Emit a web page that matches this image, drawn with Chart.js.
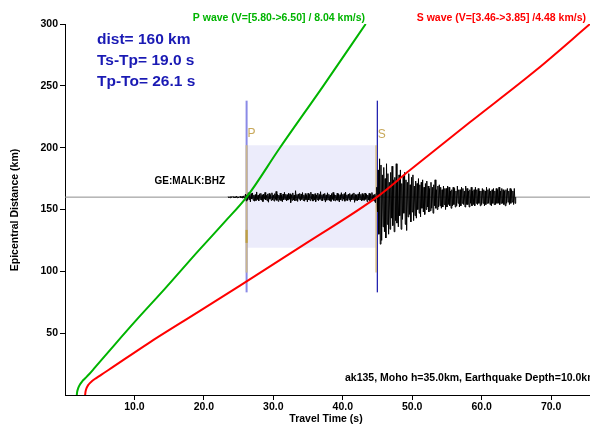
<!DOCTYPE html>
<html><head><meta charset="utf-8">
<script src="https://cdn.jsdelivr.net/npm/chart.js@4"></script>
<style>html,body{margin:0;padding:0;background:#fff}#wrap{width:590px;height:427px}</style>
</head><body><div id="wrap"><canvas id="c" width="590" height="427"></canvas></div>
<script>
// ---- data ----
const xTicks = [10, 20, 30, 40, 50, 60, 70];
const yTicks = [50, 100, 150, 200, 250, 300];

const pTime = [1.7, 1.75, 1.9, 2.15, 2.5, 2.9, 3.5, 4.2, 7.2, 10.1, 14.4, 19.2, 23.0, 26.15, 30.9, 37.2, 43.3];
const pDist = [0, 2.5, 5.5, 8.5, 11.2, 13.5, 17, 21.5, 41, 59.5, 86, 116.5, 140, 160, 199.5, 250, 300];

const sTime = [2.9, 2.95, 3.1, 3.4, 3.9, 4.5, 5.2, 6.2, 12.0, 19.2, 25.2, 34.8, 44.9, 49.6, 58.3, 67.9, 75.6];
const sDist = [0, 2.5, 5.5, 8.5, 11.3, 13.7, 16.3, 20, 41.8, 67.2, 88.5, 123, 160, 181.5, 220.5, 263, 300];

const stationDist = 160;
const traceStart = 23.5, traceStep = 0.1;
const traceAmp = [
 0.3,-0.4,0.2,-0.5,0.6,-0.3,0.4,-0.2,0.5,-0.6,0.3,-0.4,0.8,-0.5,0.3,-0.7,0.4,-0.3,0.9,-0.6,0.5,-0.8,1.0,-0.7,0.6,
 2.5,-3.1,1.8,-2.4,3.6,-1.9,2.2,-3.8,2.9,-1.5,
 3.4,-2.6,1.7,-3.3,2.1,-2.8,4.2,-2.0,1.6,-3.0,
 2.7,-1.8,3.1,-2.5,1.9,-3.6,2.4,-1.7,3.8,-2.2,
 1.5,-2.9,2.6,-4.1,3.0,-1.6,2.0,-2.7,3.5,-2.3,
 1.8,-3.2,2.8,-1.9,4.6,-2.6,2.2,-3.4,1.7,-2.1,
 3.3,-2.8,1.6,-3.7,2.5,-2.0,3.9,-1.8,2.3,-3.1,
 2.0,-2.4,3.2,-1.7,2.7,-4.4,1.9,-2.6,3.4,-2.2,
 1.7,-3.0,5.2,-2.5,2.1,-3.5,2.6,-1.6,3.0,-2.9,
 2.4,-1.9,3.7,-2.7,1.8,-3.3,2.9,-2.1,1.6,-3.8,
 3.1,-2.3,2.2,-2.8,4.0,-1.7,2.5,-3.2,1.9,-2.4,
 2.8,-3.6,1.7,-2.0,3.3,-2.9,2.1,-1.8,4.4,-2.6,
 1.9,-3.1,2.6,-2.2,3.0,-4.0,1.8,-2.5,3.5,-2.1,
 2.3,-2.8,1.6,-3.4,2.9,-1.9,3.8,-2.7,2.0,-3.0,
 1.7,-2.3,3.2,-2.6,2.4,-3.9,1.9,-2.0,3.6,-2.8,
 2.2,-1.7,2.8,-3.3,4.1,-2.4,1.8,-2.9,2.5,-2.1,
 3.0,-3.5,1.9,-2.2,2.7,-1.8,3.4,-4.2,2.1,-2.6,
 1.8,-3.0,2.6,-2.3,3.9,-1.9,2.2,-3.1,2.9,-2.5,
 2.0,-2.7,3.3,-1.8,2.4,-3.6,1.7,-2.2,3.1,-2.8,
 2.6,-2.0,3.7,-2.9,1.9,-3.2,2.3,-4.5,3.0,
 8,-12,22,-30,31,-38,26,-35,18,-24,
 24,-28,15,-33,27,-22,19,-30,12,-26,
 20,-17,25,-23,14,-28,16,-19,27,-21,
 13,-24,18,-15,22,-26,11,-18,17,-13,
 20,-22,14,-27,12,-16,19,-14,10,-20,
 16,-12,18,-19,9,-15,13,-17,11,-10,
 15,-13,10,-16,12,-9,14,-12,8,-14,
 11,-10,13,-8,9,-12,7,-11,12,-9,
 8,-13,10,-7,14,-9,6,-10,9,-8,
 10,-7,8,-9,6,-8,9,-6,7,-10,
 7,-8,9,-6,8,-7,5,-9,6,-7,
 8,-6,7,-8,5,-7,9,-5,6,-8,
 6,-7,8,-5,7,-6,5,-8,9,-6,
 7,-6,5,-8,6,-5,8,-7,5,-6,
 6,-7,8,-5,6,-6,7,-5,5,-7,
 5,-6,7,-5,6,-7,5,-6,8,-5,
 6,-5,7,-6,5,-7,6,-5,7,-6,
 5,-6,7,-5,6,-5,8,-6,5,-5,
 7,-5,6,-6,5,-7,6,-5,7,-4,
 5,-6,7,-5,6,-4,5,-6,7,-5,
 0
];

const pPick = 26.15, sPick = 44.98, sTanPick = 44.8;
const boxLow = 119, boxHigh = 202;
const blueLow = 83, blueHigh = 238;
const tanLow = 99, tanHigh = 202;
const tanMarkLow = 123, tanMarkHigh = 133.5;
const xMax = 75.6, yMax = 300;

// ---- build ----
const pts = (xs, ys) => xs.map((x, i) => ({x, y: ys[i]}));
const vline = (x, a, b) => [{x, y: a}, {x, y: b}];
const tracePts = traceAmp.map((a, i) => ({x: traceStart + i * traceStep, y: stationDist + a}));
const line = (data, color, width, order, extra) => Object.assign({
  data, borderColor: color, borderWidth: width, pointRadius: 0, tension: 0, fill: false, order
}, extra || {});

const datasets = [
  line([{x: pPick, y: boxHigh}, {x: sTanPick, y: boxHigh}], 'rgba(0,0,0,0)', 0, 20,
       {fill: {value: boxLow}, backgroundColor: '#ececfb'}),
  line([{x: 0, y: stationDist}, {x: xMax, y: stationDist}], '#8c8c8c', 1, 19),
  line([{x: pPick, y: stationDist}, {x: sPick, y: stationDist}], '#20207a', 1, 18),
  line(vline(pPick, blueLow, blueHigh), '#8a8ae6', 2, 17),
  line(vline(sPick, blueLow, blueHigh), '#2424b0', 1.3, 17),
  line(vline(pPick, tanLow, tanHigh), '#c9b68e', 2, 16),
  line(vline(sTanPick, tanLow, tanHigh), '#c8aa62', 1.2, 16),
  line(vline(pPick, tanMarkLow, tanMarkHigh), '#c0a040', 2.2, 15),
  line(tracePts, '#000000', 1, 5),
  line(pts(pTime, pDist), '#00b400', 2, 2, {cubicInterpolationMode: 'monotone'}),
  line(pts(sTime, sDist), '#ff0000', 2, 2, {cubicInterpolationMode: 'monotone'})
];

const FONT = '"Liberation Sans", Arial, sans-serif';
const textPlugin = {
  id: 'texts',
  afterDraw(chart) {
    const ctx = chart.ctx, xs = chart.scales.x;
    ctx.save();
    ctx.textBaseline = 'alphabetic';
    ctx.textAlign = 'left';
    ctx.fillStyle = '#1a1ab4';
    ctx.font = 'bold 15.5px ' + FONT;
    ctx.fillText('dist= 160 km', 97, 43.5);
    ctx.fillText('Ts-Tp= 19.0 s', 97, 64.5);
    ctx.fillText('Tp-To= 26.1 s', 97, 85.5);

    ctx.textBaseline = 'middle';
    ctx.font = 'bold 10.5px ' + FONT;
    ctx.textAlign = 'right';
    ctx.fillStyle = '#00b400';
    ctx.fillText('P wave (V=[5.80->6.50] / 8.04 km/s)', 365, 18);
    ctx.fillStyle = '#ff0000';
    ctx.fillText('S wave (V=[3.46->3.85] /4.48 km/s)', 586, 18);

    ctx.fillStyle = '#000';
    ctx.font = 'bold 10px ' + FONT;
    ctx.fillText('GE:MALK:BHZ', 225, 181);

    ctx.font = 'bold 10.5px ' + FONT;
    ctx.textAlign = 'left';
    ctx.fillText('ak135, Moho h=35.0km, Earthquake Depth=10.0km', 345, 378);
    ctx.textAlign = 'center';
    ctx.fillText('Travel Time (s)', 326, 419);
    ctx.save();
    ctx.translate(15, 210);
    ctx.rotate(-Math.PI / 2);
    ctx.fillText('Epicentral Distance (km)', 0, 0);
    ctx.restore();

    ctx.textAlign = 'left';
    ctx.font = '12px ' + FONT;
    ctx.fillStyle = '#c8a85a';
    ctx.fillText('P', xs.getPixelForValue(pPick) + 1, 133.5);
    ctx.fillText('S', xs.getPixelForValue(sPick) + 0.5, 135);
    ctx.restore();
  }
};

const tickFont = {family: FONT, size: 10.5, weight: 'bold'};
new Chart(document.getElementById('c'), {
  type: 'line',
  data: {datasets},
  options: {
    responsive: false, animation: false, devicePixelRatio: 1,
    layout: {padding: {top: 24, right: 0, left: 0, bottom: 0}},
    plugins: {legend: {display: false}, tooltip: {enabled: false}},
    scales: {
      x: {
        type: 'linear', min: 0, max: xMax,
        afterBuildTicks: s => { s.ticks = xTicks.map(v => ({value: v})); },
        afterFit: s => { s.height = 32; },
        ticks: {callback: v => Number(v).toFixed(1), font: tickFont, color: '#000', padding: 1, maxRotation: 0, autoSkip: false},
        grid: {drawOnChartArea: false, drawTicks: true, tickLength: 5, color: '#000'},
        border: {display: true, color: '#000', width: 1}
      },
      y: {
        type: 'linear', min: 0, max: yMax,
        afterBuildTicks: s => { s.ticks = yTicks.map(v => ({value: v})); },
        afterFit: s => { s.width = 65; },
        ticks: {callback: v => String(v), font: tickFont, color: '#000', padding: 2, autoSkip: false},
        grid: {drawOnChartArea: false, drawTicks: true, tickLength: 5, color: '#000'},
        border: {display: true, color: '#000', width: 1}
      }
    }
  },
  plugins: [textPlugin]
});
</script>
</body></html>
